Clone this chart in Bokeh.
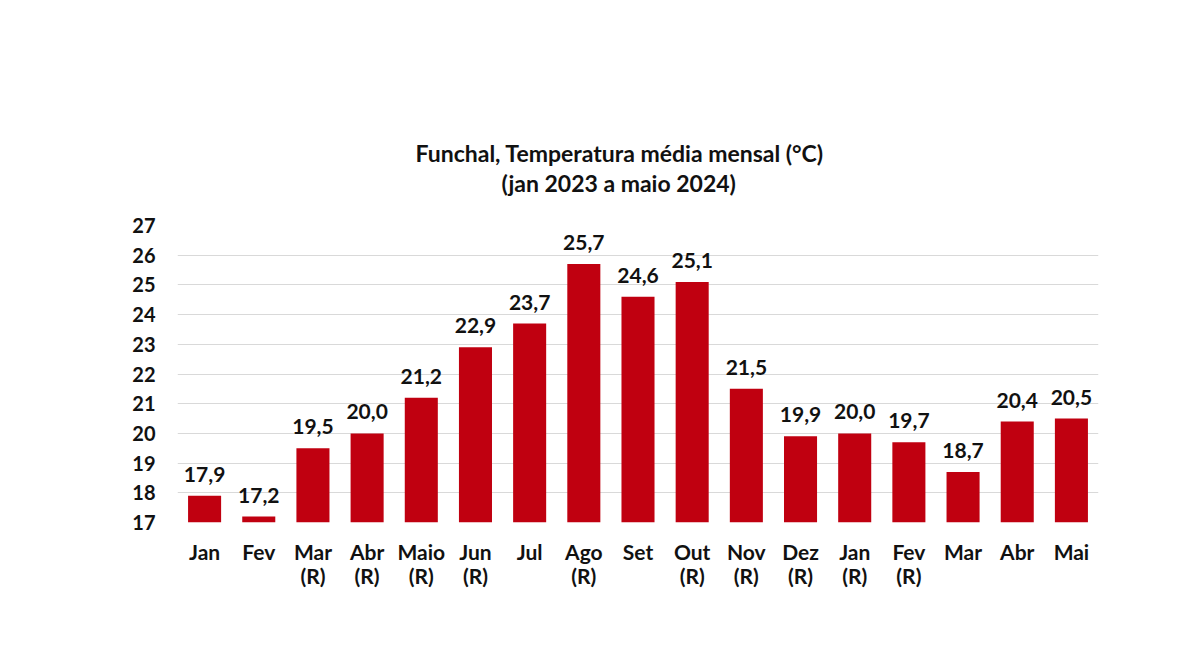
from bokeh.plotting import figure
from bokeh.models import FixedTicker, LinearAxis, Title, ColumnDataSource, Range1d
from bokeh.core.properties import value
from bokeh.embed import file_html
from bokeh.resources import INLINE

months = ["Jan", "Fev", "Mar", "Abr", "Maio", "Jun", "Jul", "Ago", "Set",
          "Out", "Nov", "Dez", "Jan", "Fev", "Mar", "Abr", "Mai"]
revised = ["", "", "(R)", "(R)", "(R)", "(R)", "", "(R)", "", "(R)", "(R)",
           "(R)", "(R)", "(R)", "", "", ""]
values = [17.9, 17.2, 19.5, 20.0, 21.2, 22.9, 23.7, 25.7, 24.6, 25.1, 21.5,
          19.9, 20.0, 19.7, 18.7, 20.4, 20.5]
y_ticks = list(range(17, 28))
title_1 = "Funchal, Temperatura média mensal (°C)"
title_2 = "(jan 2023 a maio 2024)"

FONT = "Lato"
RED = "#C00010"
INK = "#111111"

xs = list(range(len(months)))
labels = [f"{v:.1f}".replace(".", ",") for v in values]
src = ColumnDataSource(dict(x=xs, top=values, label=labels))

p = figure(width=1184, height=656, output_backend="svg", toolbar_location=None,
           x_range=Range1d(-0.5, len(months) - 0.5), y_range=Range1d(17, 27),
           min_border_left=177, min_border_right=86, min_border_top=225,
           min_border_bottom=134, title=None)
p.outline_line_color = None
p.background_fill_color = "white"
p.border_fill_color = "white"

p.vbar(x="x", top="top", bottom=17, width=0.61, source=src,
       fill_color=RED, line_color=None)
p.text(x="x", y="top", text="label", source=src, text_align="center",
       text_baseline="bottom", y_offset=-14, text_font=value(FONT),
       text_font_size="21px", text_font_style="bold", text_color=INK)

# grid
p.xgrid.visible = False
p.ygrid.ticker = FixedTicker(ticks=y_ticks)
p.ygrid.grid_line_color = "#D9D9D9"
p.ygrid.grid_line_width = 1

# y axis
ya = p.yaxis[0]
ya.ticker = FixedTicker(ticks=y_ticks)
ya.axis_line_color = None
ya.major_tick_line_color = None
ya.minor_tick_line_color = None
ya.major_tick_out = 0
ya.major_tick_in = 0
ya.major_label_standoff = 22
ya.major_label_text_font = FONT
ya.major_label_text_font_style = "bold"
ya.major_label_text_font_size = "20px"
ya.major_label_text_color = INK

def style_x(ax, overrides, standoff):
    ax.ticker = FixedTicker(ticks=xs)
    ax.major_label_overrides = overrides
    ax.axis_line_color = None
    ax.major_tick_line_color = None
    ax.minor_tick_line_color = None
    ax.major_tick_out = 0
    ax.major_tick_in = 0
    ax.major_label_standoff = standoff
    ax.major_label_text_font = FONT
    ax.major_label_text_font_style = "bold"
    ax.major_label_text_font_size = "21px"
    ax.major_label_text_color = INK

style_x(p.xaxis[0], {i: m for i, m in enumerate(months)}, 16)
ax2 = LinearAxis()
style_x(ax2, {i: (r if r else " ") for i, r in enumerate(revised)}, -4)
p.add_layout(ax2, "below")

spacer = Title(text=" ", standoff=0, text_font=FONT, text_font_size="22px")
t2 = Title(text=title_2, align="left", offset=324, standoff=0,
           text_font=FONT, text_font_style="bold", text_font_size="23px",
           text_color=INK)
t1 = Title(text=title_1, align="left", offset=238, standoff=0,
           text_font=FONT, text_font_style="bold", text_font_size="23px",
           text_color=INK)
p.add_layout(spacer, "above")
p.add_layout(t2, "above")
p.add_layout(t1, "above")

open("out.html", "w").write(file_html(p, INLINE))
